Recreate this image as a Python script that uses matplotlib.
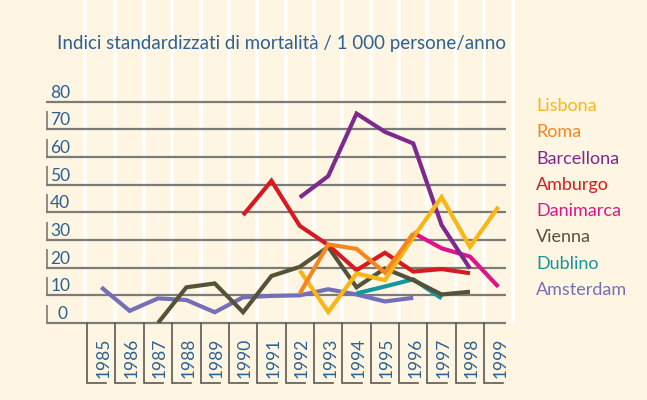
import numpy as np
import matplotlib
matplotlib.use('Agg')
import matplotlib.pyplot as plt

plt.rcParams['font.family'] = ['Lato', 'DejaVu Sans']

# dati
anni = list(range(1985, 2000))
etichette_anni = [str(a) for a in anni]

lisbona_anni = [1992, 1993, 1994, 1995, 1996, 1997, 1998, 1999]
lisbona = [19, 4, 17.9, 15.5, 31, 45.5, 27.5, 42]

roma_anni = [1992, 1993, 1994, 1995, 1996]
roma = [10.7, 28.4, 26.8, 18.2, 32.4]

barcellona_anni = [1992, 1993, 1994, 1995, 1996, 1997, 1998]
barcellona = [45.4, 53.1, 75.7, 69.1, 64.9, 35.4, 19.7]

amburgo_anni = [1990, 1991, 1992, 1993, 1994, 1995, 1996, 1997, 1998]
amburgo = [39, 51.4, 35.1, 28.2, 19.1, 25.4, 18.6, 19.5, 18]

danimarca_anni = [1996, 1997, 1998, 1999]
danimarca = [32.6, 27, 24, 13.1]

vienna_anni = [1987, 1988, 1989, 1990, 1991, 1992, 1993, 1994, 1995, 1996, 1997, 1998]
vienna = [0, 12.9, 14.3, 3.9, 17, 20.3, 27.5, 12.9, 19.7, 15.5, 10.3, 11.3]

dublino_anni = [1994, 1995, 1996, 1997]
dublino = [10.7, 13.2, 15.8, 8.9]

amsterdam_anni = [1985, 1986, 1987, 1988, 1989, 1990, 1991, 1992, 1993, 1994, 1995, 1996]
amsterdam = [12.9, 4.4, 8.9, 8.3, 3.9, 9.3, 9.8, 10, 12.2, 10.3, 7.8, 9.1]

citta = ['Lisbona', 'Roma', 'Barcellona', 'Amburgo', 'Danimarca', 'Vienna', 'Dublino', 'Amsterdam']
colori = ['#fbb515', '#f6861f', '#7d2a8e', '#d71a21', '#df148b', '#545338', '#14969c', '#7470b8']
serie = [(lisbona_anni, lisbona), (roma_anni, roma), (barcellona_anni, barcellona),
         (amburgo_anni, amburgo), (danimarca_anni, danimarca), (vienna_anni, vienna),
         (dublino_anni, dublino), (amsterdam_anni, amsterdam)]
ordine = [7, 6, 5, 3, 4, 2, 0, 1]  # chi sta sopra

sfondo = '#fef5e2'
blu = '#2b6193'
grigio = '#7b7b77'

fig = plt.figure(figsize=(6.47, 4.0), dpi=100, facecolor=sfondo)
ax = fig.add_axes([46 / 647, 77 / 400, 460 / 647, 221.3 / 400])
ax.set_facecolor(sfondo)
x0, x1 = 1983.05, 1999.27
ax.set_xlim(x0, x1)
ax.set_ylim(0, 80)
ax.axis('off')

# strisce bianche verticali
for a in anni + [1984]:
    xs = a + 0.5 if a != 1984 else 1984.42
    ax.vlines(xs, 0, 117, color='white', lw=2.6, clip_on=False, zorder=0)

# griglia orizzontale ed etichette y
for v in range(0, 90, 10):
    ax.hlines(v, x0, x1, color=grigio, lw=1.6, zorder=1, clip_on=False)
    ax.vlines(x0 + 0.02, v, v + 6.6, color=grigio, lw=1.2, zorder=1)
    ax.text(x0 + 0.15 if v else x0 + 0.4, v + 0.4, str(v), color=blu, fontsize=12.5,
            ha='left', va='bottom', zorder=2)

# caselle degli anni
for a, lab in zip(anni, etichette_anni):
    ax.plot([a - 0.5, a - 0.5, a + 0.18], [0, -21.6, -21.6], color='#5a5a55', lw=1.2,
            clip_on=False, solid_joinstyle='miter')
    ax.text(a + 0.07, -12.7, lab, rotation=90, ha='center', va='center', color=blu,
            fontsize=12.5, clip_on=False)

# linee dei dati
for z, i in enumerate(ordine):
    xs, ys = serie[i]
    ax.plot(xs, ys, color=colori[i], lw=3.0, solid_joinstyle='miter',
            solid_capstyle='butt', zorder=3 + z)

# legenda testuale
for k, (nome, c) in enumerate(zip(citta, colori)):
    fig.text(536 / 647, 1 - (106 + k * 26.3) / 400, nome, color=c, fontsize=13,
             ha='left', va='center')

fig.text(57 / 647, 1 - 43 / 400, 'Indici standardizzati di mortalità / 1 000 persone/anno',
         color=blu, fontsize=13.5, ha='left', va='center')

fig.savefig('out.png', dpi=100, facecolor=sfondo)
